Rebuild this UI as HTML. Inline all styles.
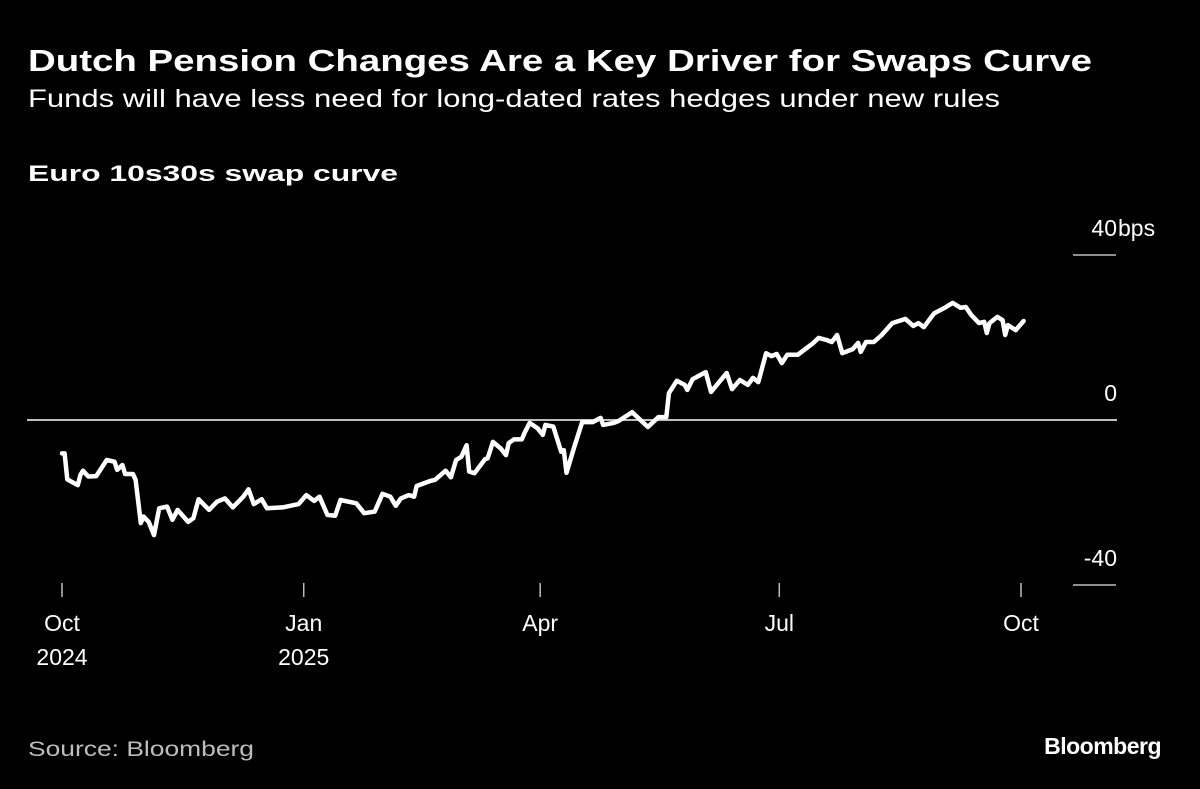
<!DOCTYPE html>
<html><head><meta charset="utf-8"><style>
body{margin:0;background:#000;width:1200px;height:789px;overflow:hidden;font-family:"Liberation Sans",sans-serif;color:#fff}
svg{position:absolute;left:0;top:0}
</style></head><body>
<svg width="1200" height="789">
<text x="28" y="71" font-size="31" font-weight="bold" fill="#fff" textLength="1064" lengthAdjust="spacingAndGlyphs">Dutch Pension Changes Are a Key Driver for Swaps Curve</text>
<text x="28" y="107" font-size="25" fill="#fff" textLength="972" lengthAdjust="spacingAndGlyphs">Funds will have less need for long-dated rates hedges under new rules</text>
<text x="28" y="181" font-size="22" font-weight="bold" fill="#fff" textLength="370" lengthAdjust="spacingAndGlyphs">Euro 10s30s swap curve</text>
<g id="axes"></g>
<path id="line" fill="none" stroke="#fff" stroke-width="4.5" stroke-linejoin="round" stroke-linecap="round"/>
<text x="28" y="756" font-size="21" fill="#bdbdbd" textLength="226" lengthAdjust="spacingAndGlyphs">Source: Bloomberg</text>
<text x="1161" y="754" font-size="23" font-weight="bold" fill="#fff" text-anchor="end" letter-spacing="-0.5">Bloomberg</text>
</svg>
<script>
const days=[0,1,2,6,7,8,10,13,17,20,21,23,24,27,28,30,31,33,35,37,40,42,44,48,50,52,56,59,62,65,69,71,73,76,78,84,90,93,96,98,101,104,106,112,115,119,122,125,127,129,132,134,135,140,142,146,148,150,152,154,155,157,161,162,164,167,169,170,172,175,176,178,181,183,184,187,190,191,192,195,198,202,205,206,210,212,217,219,223,227,230,231,234,237,238,240,245,247,253,255,258,261,263,265,268,270,272,274,276,280,286,288,291,293,295,297,301,303,304,306,309,312,316,321,324,326,328,330,332,336,337,339,342,344,346,349,351,352,353,356,358,359,360,363,366];
const values=[-8.1,-8.1,-14.4,-15.8,-13.3,-12.3,-13.7,-13.6,-9.7,-10.1,-12.1,-10.9,-13.1,-13.1,-14.5,-25.0,-23.4,-24.7,-27.9,-21.4,-21.0,-24.2,-21.8,-24.7,-23.8,-19.2,-21.8,-19.8,-19.0,-21.2,-18.6,-16.8,-20.4,-19.2,-21.4,-21.2,-20.4,-18.2,-19.6,-18.6,-23.0,-23.2,-19.4,-20.2,-22.6,-22.2,-17.9,-18.6,-20.8,-19.0,-18.2,-18.6,-16.0,-14.8,-14.5,-12.3,-13.9,-9.7,-8.9,-6.1,-12.5,-12.9,-9.5,-9.3,-5.3,-6.9,-8.5,-5.6,-4.7,-4.7,-3.2,-0.7,-2.0,-3.6,-1.2,-1.6,-7.7,-7.3,-12.8,-6.5,-0.5,-0.5,0.5,-1.2,-0.7,-0.2,1.9,0.7,-1.7,0.7,0.7,6.5,9.5,8.5,7.3,9.9,11.6,6.8,11.4,7.5,9.7,8.5,10.2,9.2,16.2,15.5,16.0,13.8,15.8,15.8,18.7,19.9,19.4,18.9,20.6,16.2,17.2,18.7,16.5,18.9,18.9,20.6,23.5,24.5,22.8,23.5,22.5,24.2,25.9,27.2,27.6,28.4,27.2,27.4,25.5,23.5,23.8,21.1,23.5,25.0,24.2,20.6,23.0,21.8,24.0];
const yTicks=[40,0,-40];
const yTickLabels=["40","0","-40"];
const xTicks=[0,92,182,273,365];
const xTickLabels=[["Oct","2024"],["Jan","2025"],["Apr",""],["Jul",""],["Oct",""]];
const X=d=>62+d*2.6274;
const Y=v=>420-v*4.125;
const NS="http://www.w3.org/2000/svg";
const ax=document.getElementById('axes');
function mk(t,a){const e=document.createElementNS(NS,t);for(const k in a)e.setAttribute(k,a[k]);ax.appendChild(e);return e;}
yTicks.forEach((v,i)=>{
  const y=Y(v);
  if(v===0){const l=mk('line',{x1:27,x2:1117,y1:y,y2:y,stroke:'#bdbdbd','stroke-width':2});
    
    }
  else{const l=mk('line',{x1:1073,x2:1116,y1:y,y2:y,stroke:'#bdbdbd','stroke-width':1.5});
    
    }
  const t=mk('text',{x:1117,y:y-19,'font-size':23,fill:'#fff','text-anchor':'end'});
  t.textContent=yTickLabels[i];
  
  
  if(i===0){const u=mk('text',{x:1118,y:y-19,'font-size':23,fill:'#fff'});
    u.textContent='bps';
    
    }
});
xTicks.forEach((d,i)=>{
  const x=X(d);
  const l=mk('line',{x1:x,x2:x,y1:583,y2:597,stroke:'#bdbdbd','stroke-width':1.5});
  
  
  xTickLabels[i].forEach((s,j)=>{if(!s)return;
    const t=mk('text',{x:x,y:631+j*34,'font-size':23,fill:'#fff','text-anchor':'middle'});
    t.textContent=s;
    
    
  });
});
document.getElementById('line').setAttribute('d',days.map((d,i)=>(i?'L':'M')+X(d).toFixed(1)+','+Y(values[i]).toFixed(1)).join(''));
</script>
</body></html>
